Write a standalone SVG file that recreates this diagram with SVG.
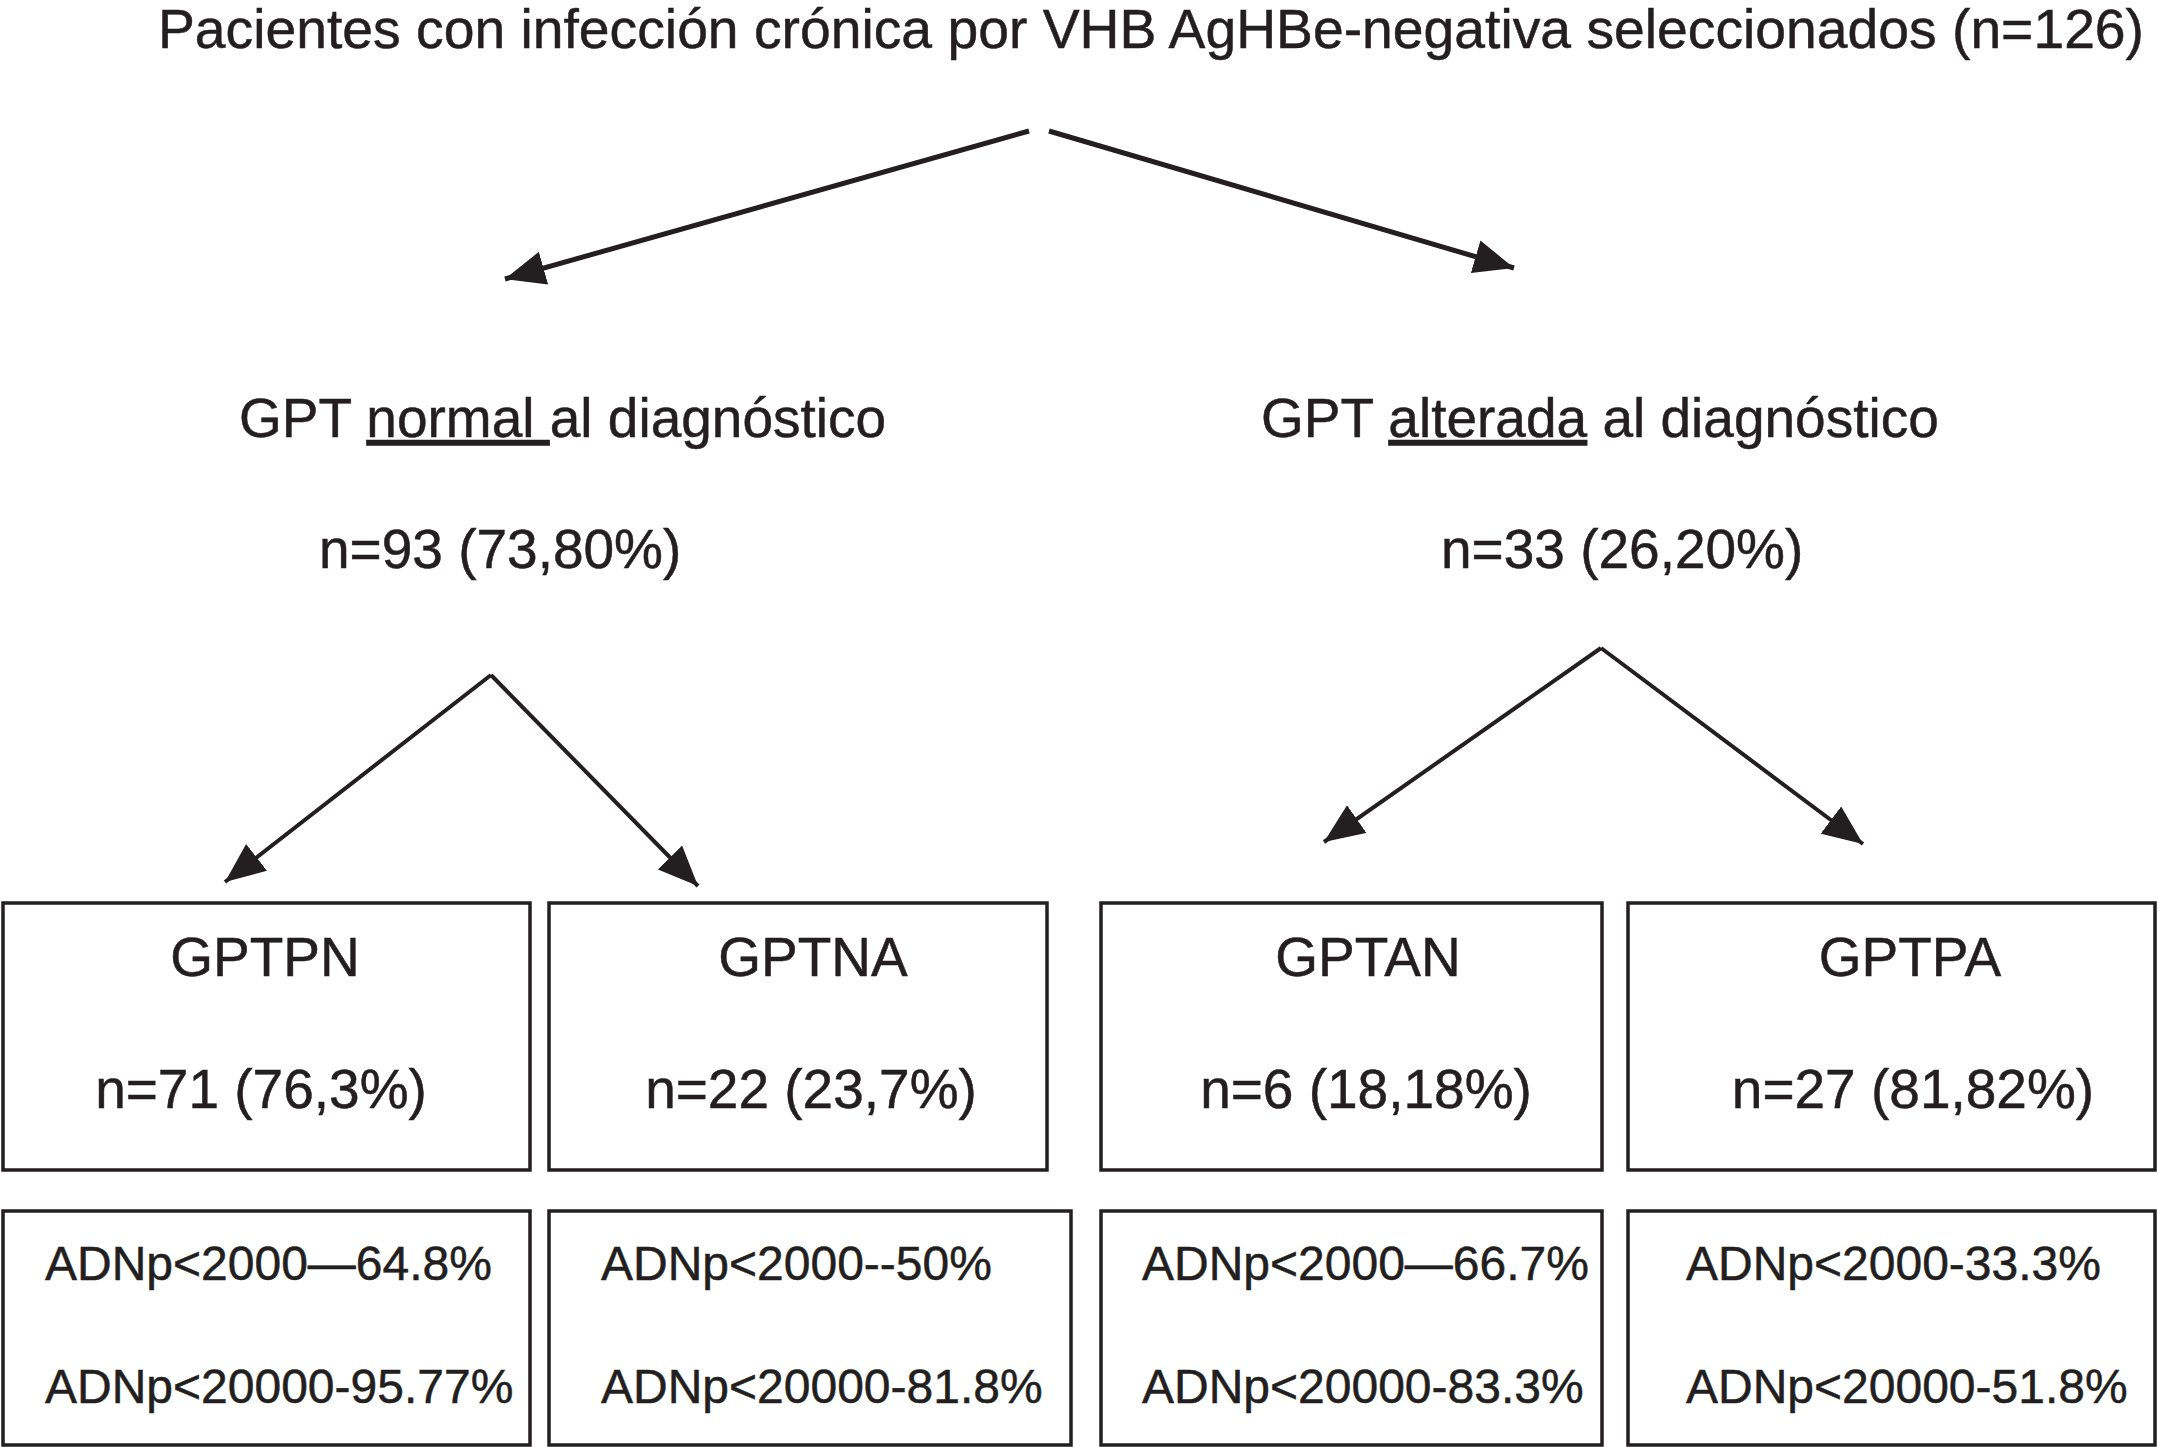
<svg xmlns="http://www.w3.org/2000/svg" width="2158" height="1447" viewBox="0 0 2158 1447">
<style>
text{font-family:"Liberation Sans",Arial,Helvetica,sans-serif;fill:#231f20;stroke:#231f20;stroke-width:0.5}
.big{font-size:55px}
.mid{font-size:55px;text-anchor:middle}
.small{font-size:48px}
.box{fill:#fff;stroke:#231f20;stroke-width:3.5}
.conn{stroke:#231f20;fill:none}
.top{stroke-width:5}
.low{stroke-width:4}
</style>
<defs>
<marker id="ah" viewBox="0 0 40 34" refX="40" refY="17" markerUnits="userSpaceOnUse" markerWidth="40" markerHeight="34" orient="auto">
<path d="M0,0 L40,17 L0,34 Z" fill="#231f20"/>
</marker>
</defs>
<rect width="2158" height="1447" fill="#fff"/>
<g id="root">
<text class="big" x="158" y="48" textLength="1986" lengthAdjust="spacingAndGlyphs">Pacientes con infección crónica por VHB AgHBe-negativa seleccionados (n=126)</text>
</g>
<g id="connectors">
<path class="conn top" d="M1029,131 L505,279" marker-end="url(#ah)"/>
<path class="conn top" d="M1049,131 L1514,268" marker-end="url(#ah)"/>
<path class="conn low" d="M491,675 L225,882" marker-end="url(#ah)"/>
<path class="conn low" d="M491,675 L698,886" marker-end="url(#ah)"/>
<path class="conn low" d="M1601,648 L1324,842" marker-end="url(#ah)"/>
<path class="conn low" d="M1601,648 L1863,844" marker-end="url(#ah)"/>
</g>
<g id="normal">
<text class="big" x="239" y="437" xml:space="preserve">GPT <tspan text-decoration="underline">normal </tspan>al diagnóstico</text>
<text class="big" x="319" y="568">n=93 (73,80%)</text>
</g>
<g id="alterada">
<text class="big" x="1261" y="437" xml:space="preserve">GPT <tspan text-decoration="underline">alterada</tspan> al diagnóstico</text>
<text class="big" x="1441" y="568">n=33 (26,20%)</text>
</g>
<g id="gptpn">
<rect class="box" x="3" y="903" width="527" height="267"/>
<text class="mid" x="265" y="976">GPTPN</text>
<text class="mid" x="261" y="1108">n=71 (76,3%)</text>
</g>
<g id="gptna">
<rect class="box" x="549" y="903" width="498" height="267"/>
<text class="mid" x="813" y="976">GPTNA</text>
<text class="mid" x="811" y="1108">n=22 (23,7%)</text>
</g>
<g id="gptan">
<rect class="box" x="1101" y="903" width="501" height="267"/>
<text class="mid" x="1368" y="976">GPTAN</text>
<text class="mid" x="1366" y="1108">n=6 (18,18%)</text>
</g>
<g id="gptpa">
<rect class="box" x="1628" y="903" width="527" height="267"/>
<text class="mid" x="1910" y="976">GPTPA</text>
<text class="mid" x="1913" y="1108">n=27 (81,82%)</text>
</g>
<g id="adn-gptpn">
<rect class="box" x="3" y="1211" width="527" height="234"/>
<text class="small" x="45" y="1280">ADNp&lt;2000—64.8%</text>
<text class="small" x="45" y="1403">ADNp&lt;20000-95.77%</text>
</g>
<g id="adn-gptna">
<rect class="box" x="549" y="1211" width="522" height="234"/>
<text class="small" x="601" y="1280">ADNp&lt;2000--50%</text>
<text class="small" x="601" y="1403">ADNp&lt;20000-81.8%</text>
</g>
<g id="adn-gptan">
<rect class="box" x="1101" y="1211" width="501" height="234"/>
<text class="small" x="1142" y="1280">ADNp&lt;2000—66.7%</text>
<text class="small" x="1142" y="1403">ADNp&lt;20000-83.3%</text>
</g>
<g id="adn-gptpa">
<rect class="box" x="1628" y="1211" width="527" height="234"/>
<text class="small" x="1686" y="1280">ADNp&lt;2000-33.3%</text>
<text class="small" x="1686" y="1403">ADNp&lt;20000-51.8%</text>
</g>
</svg>
